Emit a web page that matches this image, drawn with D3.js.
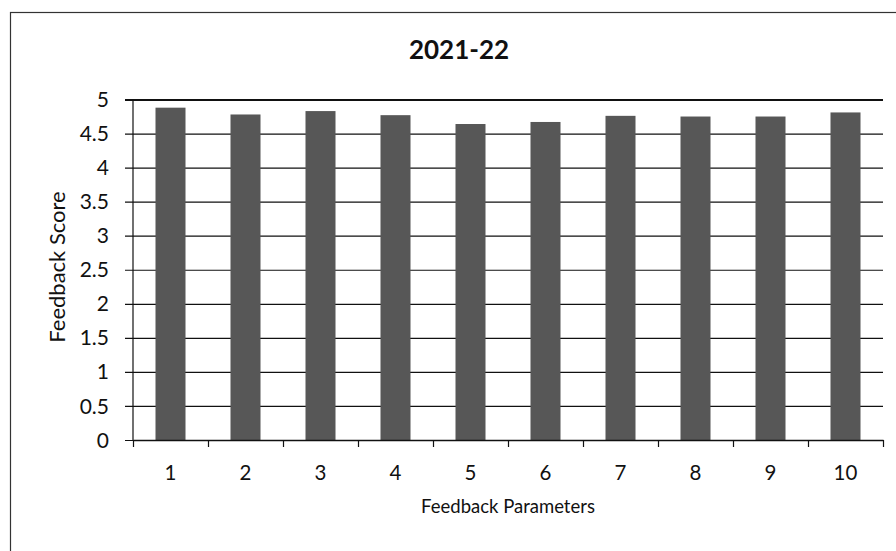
<!DOCTYPE html>
<html>
<head>
<meta charset="utf-8">
<script src="https://cdn.jsdelivr.net/npm/d3@7"></script>
<style>
  html, body { margin: 0; padding: 0; background: #fff; }
  svg { display: block; }
  text { font-family: Lato, "Open Sans", sans-serif; fill: #111; }
</style>
</head>
<body>
<svg id="chart" width="896" height="551"></svg>
<script>
const categories = ["1", "2", "3", "4", "5", "6", "7", "8", "9", "10"];
const scores = [4.88, 4.78, 4.83, 4.77, 4.64, 4.67, 4.76, 4.75, 4.75, 4.81];
const yTicks = [0, 0.5, 1, 1.5, 2, 2.5, 3, 3.5, 4, 4.5, 5];
const chartTitle = "2021-22";
const xTitle = "Feedback Parameters";
const yTitle = "Feedback Score";

const svg = d3.select("#chart");
const plot = { left: 133, right: 883, top: 99.5, bottom: 440 };

// outer chart frame
svg.append("rect")
  .attr("x", 10.5).attr("y", 12.5)
  .attr("width", 920).attr("height", 600)
  .attr("fill", "none").attr("stroke", "#333").attr("stroke-width", 1.2);

const x = d3.scaleBand()
  .domain(categories)
  .range([plot.left, plot.right])
  .paddingInner(0.6)
  .paddingOuter(0.3);

const xEdge = d3.scaleLinear()
  .domain([0, categories.length])
  .range([plot.left, plot.right]);

const y = d3.scaleLinear()
  .domain([0, 5])
  .range([plot.bottom, plot.top]);

// gridlines with outside tick marks
const yAxis = d3.axisLeft(y)
  .tickValues(yTicks)
  .tickSize(-(plot.right - plot.left))
  .tickSizeOuter(0)
  .tickPadding(0)
  .tickFormat("");
const gy = svg.append("g")
  .attr("transform", `translate(${plot.left},0)`)
  .call(yAxis);
gy.select(".domain").remove();
gy.selectAll(".tick line")
  .attr("x1", -8)
  .attr("stroke", "#111")
  .attr("stroke-width", d => d === 5 ? 2 : 1.2);

// y tick labels
svg.append("g").selectAll("text")
  .data(yTicks)
  .join("text")
  .attr("x", 109)
  .attr("y", d => y(d))
  .attr("dy", "0.36em")
  .attr("text-anchor", "end")
  .attr("font-size", 21)
  .text(d => d3.format("")(d));

// bars
svg.append("g").selectAll("rect")
  .data(scores)
  .join("rect")
  .attr("x", (d, i) => x(categories[i]))
  .attr("y", d => y(d))
  .attr("width", x.bandwidth())
  .attr("height", d => y(0) - y(d))
  .attr("fill", "#575757");

// y axis line
svg.append("line")
  .attr("x1", plot.left).attr("x2", plot.left)
  .attr("y1", plot.top).attr("y2", plot.bottom)
  .attr("stroke", "#111").attr("stroke-width", 1.2);

// x axis with boundary ticks
const xAxis = d3.axisBottom(xEdge)
  .tickValues(d3.range(0, categories.length + 1))
  .tickSize(7)
  .tickSizeOuter(0)
  .tickFormat("");
const gx = svg.append("g")
  .attr("transform", `translate(0,${plot.bottom})`)
  .call(xAxis);
gx.select(".domain").attr("stroke", "#111").attr("stroke-width", 1.5);
gx.selectAll(".tick line").attr("stroke", "#111").attr("stroke-width", 1.2);

// x category labels
svg.append("g").selectAll("text")
  .data(categories)
  .join("text")
  .attr("x", d => x(d) + x.bandwidth() / 2)
  .attr("y", 480)
  .attr("text-anchor", "middle")
  .attr("font-size", 20.5)
  .text(d => d);

// titles
svg.append("text")
  .attr("x", 459).attr("y", 59)
  .attr("text-anchor", "middle")
  .attr("font-size", 26)
  .attr("font-weight", "bold")
  .text(chartTitle);

svg.append("text")
  .attr("x", (plot.left + plot.right) / 2).attr("y", 513)
  .attr("text-anchor", "middle")
  .attr("font-size", 18.5)
  .text(xTitle);

svg.append("text")
  .attr("transform", `translate(65,267) rotate(-90)`)
  .attr("text-anchor", "middle")
  .attr("font-size", 22)
  .text(yTitle);
</script>
</body>
</html>
